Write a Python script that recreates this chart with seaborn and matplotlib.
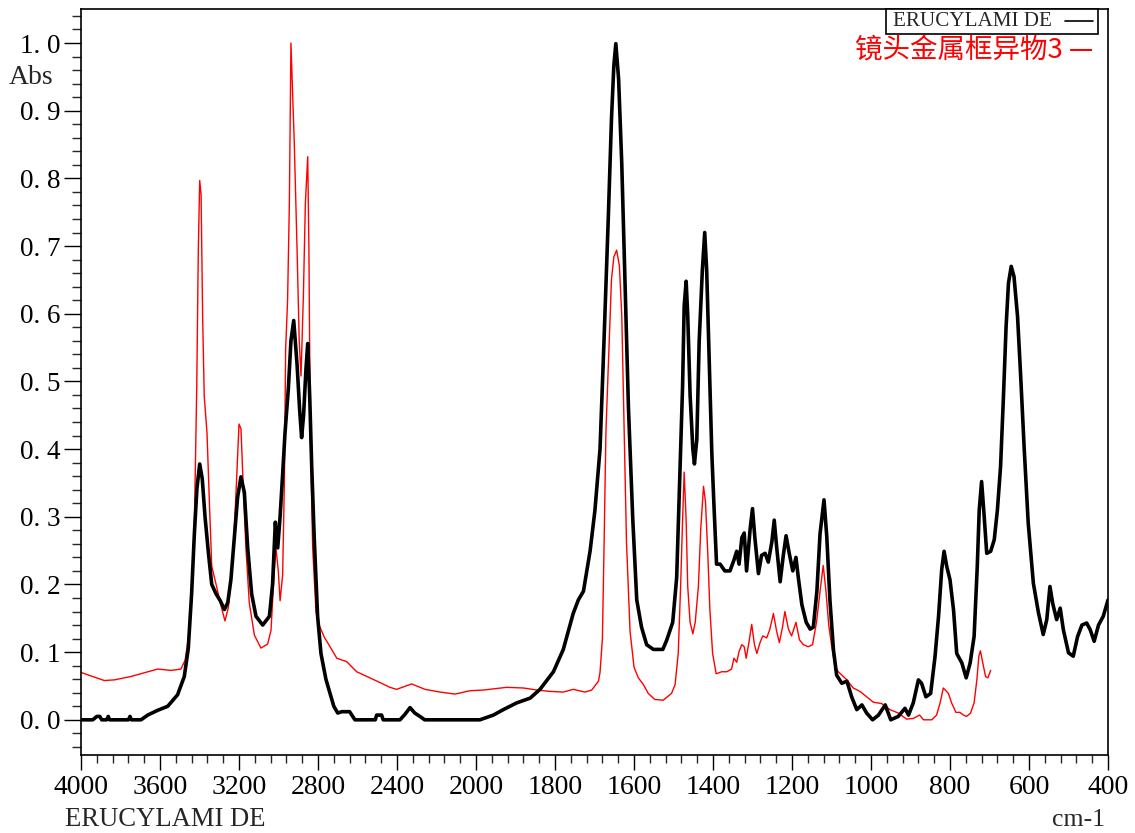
import numpy as np
import pandas as pd
import matplotlib
matplotlib.use("Agg")
import matplotlib.pyplot as plt
import seaborn as sns
from matplotlib.ticker import FixedLocator, FuncFormatter
from matplotlib.patches import Rectangle
from matplotlib.lines import Line2D

# ---------------- data ----------------
black_name = "ERUCYLAMI DE"
red_name = "镜头金属框异物3"

black_wn = [4000, 3940, 3920, 3905, 3895, 3870, 3862, 3855, 3760, 3752, 3745, 3696, 3662, 3612, 3561,
            3511, 3477, 3457, 3440, 3426, 3413, 3399, 3386, 3372, 3355, 3338, 3316, 3295, 3274, 3257,
            3241, 3224, 3207, 3190, 3173, 3156, 3136, 3114, 3080, 3046, 3030, 3016, 3004, 2992, 2979,
            2967, 2950, 2937, 2923, 2906, 2893, 2883, 2873, 2861, 2852, 2842, 2832, 2819, 2802, 2785,
            2760, 2740, 2720, 2700, 2680, 2660, 2640, 2613, 2510, 2503, 2478, 2470, 2385, 2360, 2334,
            2310, 2284, 2260, 1990, 1956, 1931, 1897, 1863, 1838, 1804, 1779, 1754, 1741, 1728, 1711,
            1699, 1686, 1676, 1665, 1657, 1651, 1646, 1639, 1631, 1623, 1614, 1603, 1593, 1581, 1568,
            1551, 1527, 1517, 1502, 1492, 1484, 1477, 1473, 1468, 1464, 1458, 1451, 1447, 1441, 1435,
            1427, 1421, 1416, 1409, 1403, 1397, 1391, 1382, 1370, 1357, 1347, 1340, 1334, 1327, 1321,
            1315, 1306, 1300, 1294, 1285, 1277, 1268, 1260, 1251, 1245, 1239, 1230, 1222, 1215, 1207,
            1198, 1190, 1184, 1175, 1164, 1154, 1146, 1137, 1129, 1119, 1112, 1104, 1095, 1087, 1074,
            1061, 1049, 1036, 1023, 1011, 996, 981, 964, 950, 931, 914, 905, 893, 880, 872,
            861, 849, 838, 829, 821, 815, 808, 800, 791, 783, 770, 759, 749, 739, 731,
            726, 720, 714, 707, 697, 688, 680, 672, 665, 658, 652, 645, 638, 629, 621,
            612, 602, 589, 576, 564, 555, 547, 540, 530, 521, 513, 500, 488, 477, 466,
            454, 445, 435, 424, 412, 400]
black_abs = [0.0, 0.0, 0.005, 0.005, 0.0, 0.0, 0.005, 0.0, 0.0, 0.005, 0.0, 0.0, 0.007, 0.014, 0.02,
             0.037, 0.064, 0.105, 0.186, 0.275, 0.342, 0.378, 0.356, 0.30, 0.247, 0.20, 0.186, 0.176, 0.163, 0.173,
             0.207, 0.268, 0.329, 0.359, 0.336, 0.254, 0.186, 0.153, 0.14, 0.153, 0.20, 0.292, 0.254, 0.30, 0.363,
             0.424, 0.49, 0.56, 0.59, 0.525, 0.458, 0.417, 0.45, 0.518, 0.556, 0.478, 0.376, 0.268, 0.153, 0.098,
             0.06, 0.04, 0.02, 0.01, 0.012, 0.012, 0.012, 0.0, 0.0, 0.007, 0.007, 0.0, 0.0, 0.008, 0.018,
             0.01, 0.005, 0.0, 0.0, 0.007, 0.015, 0.025, 0.032, 0.045, 0.071, 0.104, 0.157, 0.177, 0.19, 0.25,
             0.309, 0.40, 0.559, 0.743, 0.888, 0.967, 0.999, 0.947, 0.822, 0.651, 0.46, 0.295, 0.177, 0.137, 0.111,
             0.104, 0.104, 0.118, 0.144, 0.21, 0.361, 0.493, 0.611, 0.648, 0.598, 0.48, 0.40, 0.378, 0.414, 0.559,
             0.664, 0.72, 0.664, 0.519, 0.394, 0.309, 0.23, 0.23, 0.22, 0.22, 0.236, 0.249, 0.23, 0.269, 0.276,
             0.22, 0.282, 0.312, 0.269, 0.216, 0.243, 0.246, 0.233, 0.263, 0.295, 0.256, 0.204, 0.243, 0.272, 0.246,
             0.22, 0.24, 0.21, 0.17, 0.144, 0.134, 0.137, 0.19, 0.275, 0.325, 0.271, 0.177, 0.103, 0.066, 0.054,
             0.057, 0.034, 0.015, 0.022, 0.010, 0.0, 0.007, 0.022, 0.0, 0.005, 0.017, 0.007, 0.025, 0.059, 0.054,
             0.034, 0.039, 0.093, 0.153, 0.222, 0.249, 0.226, 0.207, 0.162, 0.098, 0.084, 0.062, 0.084, 0.123, 0.226,
             0.31, 0.352, 0.305, 0.246, 0.249, 0.266, 0.31, 0.374, 0.473, 0.581, 0.645, 0.67, 0.655, 0.596, 0.507,
             0.399, 0.291, 0.202, 0.158, 0.126, 0.148, 0.197, 0.172, 0.148, 0.165, 0.133, 0.099, 0.094, 0.123, 0.14,
             0.143, 0.133, 0.116, 0.14, 0.153, 0.177]

red_wn = [4000, 3932, 3882, 3831, 3747, 3662, 3612, 3544, 3494, 3473, 3457, 3440, 3426, 3414, 3406,
          3399, 3392, 3384, 3376, 3362, 3350, 3338, 3316, 3295, 3271, 3254, 3232, 3215, 3200, 3190,
          3180, 3165, 3148, 3122, 3089, 3055, 3038, 3024, 3013, 3001, 2992, 2979, 2970, 2964, 2954,
          2945, 2937, 2920, 2906, 2895, 2886, 2874, 2864, 2852, 2846, 2839, 2827, 2810, 2793, 2768,
          2739, 2705, 2655, 2604, 2537, 2486, 2436, 2402, 2326, 2258, 2182, 2106, 2030, 1981, 1922,
          1880, 1846, 1813, 1779, 1754, 1724, 1707, 1690, 1686, 1680, 1676, 1671, 1662, 1657, 1651,
          1644, 1637, 1631, 1625, 1619, 1610, 1600, 1589, 1576, 1564, 1547, 1526, 1505, 1496, 1488,
          1482, 1477, 1473, 1468, 1464, 1458, 1451, 1445, 1437, 1431, 1424, 1419, 1413, 1408, 1401,
          1392, 1378, 1365, 1353, 1347, 1340, 1334, 1327, 1321, 1316, 1310, 1302, 1295, 1289, 1281,
          1274, 1264, 1256, 1247, 1239, 1232, 1224, 1218, 1209, 1201, 1190, 1181, 1171, 1159, 1148,
          1138, 1129, 1121, 1114, 1107, 1100, 1091, 1083, 1061, 1045, 1028, 1011, 994, 973, 952,
          931, 910, 893, 877, 867, 846, 834, 825, 817, 804, 796, 785, 775, 766, 758,
          748, 739, 732, 727, 723, 717, 710, 704, 697]
red_abs = [0.07, 0.063, 0.058, 0.059, 0.064, 0.071, 0.075, 0.073, 0.075, 0.088, 0.119, 0.186, 0.288, 0.49, 0.695,
           0.797, 0.776, 0.593, 0.478, 0.424, 0.322, 0.227, 0.20, 0.173, 0.146, 0.166, 0.234, 0.336, 0.437, 0.43,
           0.356, 0.254, 0.173, 0.125, 0.106, 0.112, 0.132, 0.207, 0.254, 0.22, 0.176, 0.214, 0.356, 0.546, 0.62,
           0.763, 1.0, 0.851, 0.695, 0.559, 0.508, 0.627, 0.763, 0.832, 0.695, 0.424, 0.254, 0.159, 0.139, 0.122,
           0.108, 0.091, 0.086, 0.071, 0.062, 0.055, 0.048, 0.045, 0.053, 0.045, 0.041, 0.038, 0.043, 0.044, 0.048,
           0.047, 0.044, 0.042, 0.041, 0.045, 0.041, 0.044, 0.057, 0.07, 0.12, 0.25, 0.427, 0.572, 0.651, 0.684,
           0.694, 0.671, 0.598, 0.427, 0.262, 0.131, 0.078, 0.062, 0.052, 0.039, 0.03, 0.029, 0.039, 0.052, 0.098,
           0.197, 0.295, 0.366, 0.295, 0.197, 0.144, 0.127, 0.144, 0.197, 0.282, 0.345, 0.322, 0.243, 0.164, 0.098,
           0.068, 0.071, 0.071, 0.075, 0.091, 0.085, 0.101, 0.111, 0.108, 0.091, 0.111, 0.141, 0.111, 0.098, 0.114,
           0.124, 0.121, 0.134, 0.157, 0.131, 0.114, 0.137, 0.16, 0.134, 0.124, 0.144, 0.118, 0.111, 0.108, 0.111,
           0.144, 0.19, 0.228, 0.19, 0.14, 0.111, 0.079, 0.071, 0.059, 0.047, 0.042, 0.034, 0.026, 0.024, 0.015,
           0.01, 0.001, 0.002, 0.007, 0.0, 0.0, 0.007, 0.025, 0.047, 0.039, 0.025, 0.011, 0.011, 0.007, 0.005,
           0.01, 0.025, 0.059, 0.094, 0.102, 0.084, 0.064, 0.062, 0.073]

x_major = [4000, 3600, 3200, 2800, 2400, 2000, 1800, 1600, 1400, 1200, 1000, 800, 600, 400]
y_major = [0.0, 0.1, 0.2, 0.3, 0.4, 0.5, 0.6, 0.7, 0.8, 0.9, 1.0]

df_black = pd.DataFrame({"wn": black_wn, "abs": black_abs})
df_red = pd.DataFrame({"wn": red_wn, "abs": red_abs})

# ---------------- style ----------------
sns.set_style("ticks")
serif = ["Liberation Serif", "DejaVu Serif"]
plt.rcParams["font.family"] = serif

W, H = 1135, 833
fig = plt.figure(figsize=(W / 100, H / 100), dpi=100)
ax = fig.add_axes([81 / W, 1 - 755 / H, (1108 - 81) / W, (755 - 8.5) / H])


def fwd(x):
    x = np.asarray(x, dtype=float)
    return np.where(x > 2000, 2000 + (x - 2000) / 2.0, x)


def inv(t):
    t = np.asarray(t, dtype=float)
    return np.where(t > 2000, 2000 + (t - 2000) * 2.0, t)


sns.lineplot(data=df_red, x="wn", y="abs", ax=ax, color="#ff0000", linewidth=1.0,
             estimator=None, sort=False, legend=False)
sns.lineplot(data=df_black, x="wn", y="abs", ax=ax, color="black", linewidth=2.6,
             estimator=None, sort=False, legend=False)

ax.set_xscale("function", functions=(fwd, inv))
ax.set_xlim(4000, 400)
ax.set_ylim(-0.052, 1.051)

x_minor = list(np.arange(4000, 2000, -80)) + list(np.arange(2000, 399, -40))
ax.xaxis.set_major_locator(FixedLocator(x_major))
ax.xaxis.set_minor_locator(FixedLocator(x_minor))
ax.xaxis.set_major_formatter(FuncFormatter(lambda v, p: f"{int(round(v))}"))
ax.yaxis.set_major_locator(FixedLocator(y_major))
ax.yaxis.set_minor_locator(FixedLocator(list(np.round(np.arange(-0.04, 1.05, 0.02), 2))))
ax.yaxis.set_major_formatter(FuncFormatter(lambda v, p: f"{v:.1f}".replace(".", ". ")))

ax.tick_params(axis="y", which="major", direction="out", length=12.5, width=1, pad=2,
               labelsize=19.5, colors="black")
ax.tick_params(axis="y", which="minor", direction="out", length=6.5, width=1)
ax.tick_params(axis="x", which="major", direction="out", length=11, width=1, pad=3.5,
               labelsize=20, colors="black")
ax.tick_params(axis="x", which="minor", direction="out", length=5.5, width=1)
for s in ax.spines.values():
    s.set_visible(True)
    s.set_color("black")
    s.set_linewidth(1.2)
ax.set_xlabel("")
ax.set_ylabel("")
ax.grid(False)

# axis annotations
fig.text(9 / W, 1 - 78 / H, "Abs", ha="left", va="center", fontsize=20, family=serif)
fig.text(65 / W, 1 - 820 / H, black_name, ha="left", va="center", fontsize=19.2, family=serif)
fig.text(1105 / W, 1 - 820 / H, "cm-1", ha="right", va="center", fontsize=18.5, family=serif)

# legend
fig.add_artist(Rectangle((886 / W, 1 - 34 / H), (1098 - 886) / W, 25 / H, transform=fig.transFigure,
                         fill=True, facecolor="white", edgecolor="black", linewidth=1.2))
fig.text(893 / W, 1 - 21.5 / H, black_name, ha="left", va="center", fontsize=15.2, family=serif)
fig.add_artist(Line2D([1065 / W, 1093 / W], [1 - 20.7 / H, 1 - 20.7 / H], transform=fig.transFigure,
                      color="black", linewidth=1.2))
fig.text(855 / W, 1 - 50 / H, red_name + " —", ha="left", va="center", fontsize=19.8,
         color="#ff0000", family=["Noto Sans CJK SC", "DejaVu Sans"])

fig.savefig("out.png", dpi=100, facecolor="white")
